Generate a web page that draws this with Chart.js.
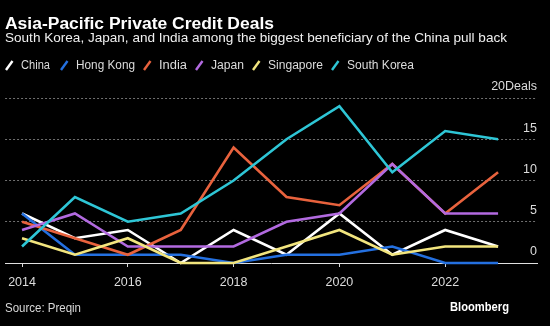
<!DOCTYPE html>
<html><head><meta charset="utf-8">
<script src="https://cdn.jsdelivr.net/npm/chart.js@4"></script>
<style>
html,body{margin:0;padding:0;background:#000;}
#wrap{position:relative;width:550px;height:326px;overflow:hidden;background:#000;font-family:"Liberation Sans",Arial,sans-serif;color:#fff}
.t{position:absolute;white-space:nowrap;line-height:1;transform-origin:0 0}
canvas{position:absolute;left:0;top:0}
</style></head><body>
<div id="wrap">
<canvas id="c" width="550" height="326"></canvas>
<div class="t" style="left:5px;top:15.5px;font-size:16px;font-weight:bold" data-w="269">Asia-Pacific Private Credit Deals</div>
<div class="t" style="left:5px;top:31px;font-size:13px;color:#f0f0f0" data-w="502">South Korea, Japan, and India among the biggest beneficiary of the China pull back</div>
<div id="legend"></div>
<div class="t" style="left:5px;top:300.5px;font-size:13px;color:#d8d8d8" data-w="76">Source: Preqin</div>
<div class="t" style="left:450px;top:300px;font-size:13px;font-weight:bold" data-w="59">Bloomberg</div>
</div>
<script>
// ---- data ----
const years = [2014, 2015, 2016, 2017, 2018, 2019, 2020, 2021, 2022, 2023];
const china      = [6, 3, 4, 0, 4, 1, 6, 1, 4, 2];
const hongKong   = [6, 1, 1, 1, 0, 1, 1, 2, 0, 0];
const india      = [5, 3, 1, 4, 14, 8, 7, 12, 6, 11];
const japan      = [4, 6, 2, 2, 2, 5, 6, 12, 6, 6];
const singapore  = [3, 1, 3, 0, 0, 2, 4, 1, 2, 2];
const southKorea = [2, 8, 5, 6, 10, 15, 19, 11, 16, 15];
const seriesNames = ['China', 'Hong Kong', 'India', 'Japan', 'Singapore', 'South Korea'];
const xTicks = [2014, 2016, 2018, 2020, 2022];
const yTicks = [0, 5, 10, 15, 20];
const yUnit = 'Deals';

// ---- style / layout ----
const seriesValues = [china, hongKong, india, japan, singapore, southKorea];
const seriesColors = ['#ffffff', '#2470e0', '#e8623d', '#b26ae0', '#f2e57e', '#2ec6d6'];
const legendX = [5, 60, 143, 195, 252, 331];
const legendTextW = [29, 59, 28, 33, 55, 67];

const leg = document.getElementById('legend');
seriesNames.forEach((n, i) => {
  const s = document.createElementNS('http://www.w3.org/2000/svg', 'svg');
  s.setAttribute('width', '9'); s.setAttribute('height', '11');
  s.style.position = 'absolute'; s.style.left = legendX[i] + 'px'; s.style.top = '60px';
  s.innerHTML = `<line x1="1" y1="10" x2="7.5" y2="1" stroke="${seriesColors[i]}" stroke-width="2.4"/>`;
  leg.appendChild(s);
  const d = document.createElement('div');
  d.className = 't'; d.textContent = n;
  d.style.left = (legendX[i] + 16) + 'px'; d.style.top = '59.4px';
  d.style.fontSize = '12.5px'; d.style.color = '#dcdcdc';
  d.dataset.w = legendTextW[i];
  leg.appendChild(d);
});
document.querySelectorAll('[data-w]').forEach(el => {
  const w = el.getBoundingClientRect().width;
  el.style.transform = `scaleX(${(+el.dataset.w) / w})`;
});

const font = { family: '"Liberation Sans", Arial, sans-serif', size: 12.5 };
new Chart(document.getElementById('c'), {
  type: 'line',
  data: {
    datasets: seriesValues.map((vals, i) => ({
      label: seriesNames[i],
      data: years.map((y, j) => ({ x: y, y: vals[j] })),
      borderColor: seriesColors[i],
      backgroundColor: seriesColors[i],
      borderWidth: 2.6,
      pointRadius: 0,
      tension: 0,
      clip: false,
      order: seriesNames.length - i
    }))
  },
  options: {
    responsive: false,
    animation: false,
    devicePixelRatio: 1,
    layout: { padding: { left: 4, right: 13, top: 98, bottom: 28 } },
    plugins: { legend: { display: false }, tooltip: { enabled: false }, title: { display: false } },
    scales: {
      x: {
        type: 'linear', min: 2013.679, max: 2023.736,
        afterBuildTicks: s => { s.ticks = xTicks.map(v => ({ value: v })); },
        grid: { drawOnChartArea: false, drawTicks: true, tickLength: 4, color: '#d8d8d8', tickColor: '#d8d8d8' },
        border: { display: true, color: '#e0e0e0', width: 1 },
        ticks: { color: '#dcdcdc', font, padding: 8, maxRotation: 0, autoSkip: false, callback: v => String(v) }
      },
      y: {
        position: 'right', min: 0, max: 20,
        afterBuildTicks: s => { s.ticks = yTicks.map(v => ({ value: v })); },
        grid: { color: '#707070', lineWidth: 1, drawTicks: false },
        border: { display: false, dash: [2, 2] },
        ticks: { mirror: true, padding: 0, labelOffset: -11, color: '#dcdcdc', font,
          callback: v => v === yTicks[yTicks.length - 1] ? v + yUnit : String(v) }
      }
    }
  }
});
</script>
</body></html>
